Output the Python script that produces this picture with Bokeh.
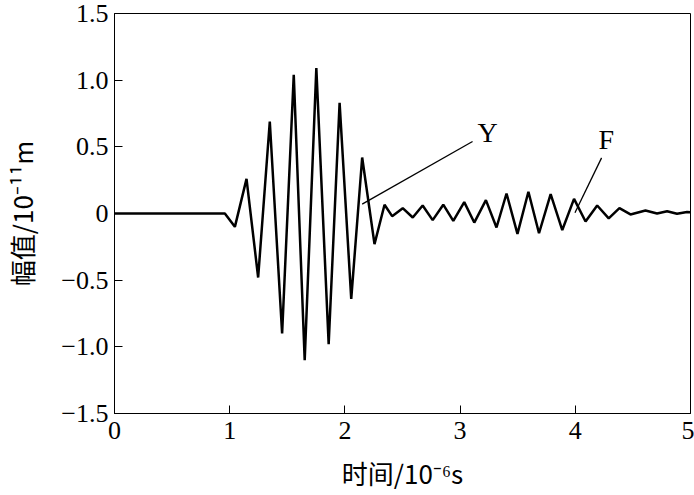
from bokeh.plotting import figure
from bokeh.models import Range1d, FixedTicker
from bokeh.core.properties import value
from bokeh.embed import file_html
from bokeh.resources import INLINE

# waveform (time in 1e-6 s, amplitude in 1e-11 m), peaks/troughs
t = [0, 0.958, 1.045, 1.146, 1.247, 1.348, 1.455, 1.556, 1.651, 1.752, 1.859,
     1.954, 2.055, 2.15, 2.257, 2.344, 2.41, 2.502, 2.589, 2.675, 2.762, 2.854,
     2.941, 3.036, 3.123, 3.224, 3.316, 3.403, 3.498, 3.593, 3.685, 3.786,
     3.887, 3.989, 4.089, 4.19, 4.29, 4.383, 4.479, 4.609, 4.71, 4.797, 4.883,
     4.97, 5.0]
amp = [0, 0, -0.10, 0.26, -0.48, 0.69, -0.90, 1.04, -1.10, 1.09, -0.98,
       0.83, -0.64, 0.42, -0.23, 0.066, -0.02, 0.04, -0.03, 0.06, -0.05, 0.066,
       -0.056, 0.085, -0.068, 0.10, -0.105, 0.15, -0.153, 0.163, -0.148, 0.146,
       -0.124, 0.11, -0.06, 0.06, -0.036, 0.04, -0.007, 0.022, 0.0, 0.017, -0.002,
       0.012, 0.01]

x_ticks = [0, 1, 2, 3, 4, 5]
x_tick_labels = ["0", "1", "2", "3", "4", "5"]
y_ticks = [-1.5, -1.0, -0.5, 0, 0.5, 1.0, 1.5]
y_tick_labels = ["\u22121.5", "\u22121.0", "\u22120.5", "0", "0.5", "1.0", "1.5"]

# annotation callouts
ann_labels = ["Y", "F"]
ann_x0 = [2.15, 3.997]
ann_y0 = [0.07, 0.005]
ann_x1 = [3.108, 4.228]
ann_y1 = [0.54, 0.417]
ann_tx = [3.238, 4.268]
ann_ty = [0.61, 0.555]

p = figure(width=694, height=495, output_backend="svg", toolbar_location=None,
           x_range=Range1d(0, 5), y_range=Range1d(-1.5, 1.5),
           min_border_left=111, min_border_right=4, min_border_top=13,
           min_border_bottom=82)
p.background_fill_color = "white"
p.border_fill_color = "white"
p.outline_line_color = "black"
p.outline_line_width = 1
p.xgrid.visible = False
p.ygrid.visible = False

p.line(t, amp, line_color="black", line_width=2.5)

p.segment(x0=ann_x0, y0=ann_y0, x1=ann_x1, y1=ann_y1, line_color="black", line_width=1.3)
p.text(x=ann_tx, y=ann_ty, text=ann_labels, text_font=value("Liberation Serif"),
       text_font_size="28px", text_align="center", text_baseline="middle",
       text_color="black")

for ax, ticks, labels in ((p.xaxis[0], x_ticks, x_tick_labels), (p.yaxis[0], y_ticks, y_tick_labels)):
    ax.ticker = FixedTicker(ticks=ticks)
    ax.major_label_overrides = {tk: lb for tk, lb in zip(ticks, labels)}
    ax.major_tick_in = 8
    ax.major_tick_out = 0
    ax.minor_tick_line_color = None
    ax.axis_line_color = "black"
    ax.major_tick_line_color = "black"
    ax.major_label_text_font = "Liberation Serif"
    ax.major_label_text_font_size = "26px"
    ax.major_label_text_color = "black"
    ax.axis_label_text_font = "Noto Sans CJK SC"
    ax.axis_label_text_font_size = "26px"
    ax.axis_label_text_font_style = "normal"
    ax.axis_label_text_color = "black"

p.xaxis[0].axis_label = "时间/10⁻⁶s"
p.yaxis[0].axis_label = "幅值/10⁻¹¹m"
p.xaxis[0].major_label_standoff = 8
p.yaxis[0].major_label_standoff = 6
p.xaxis[0].axis_label_standoff = 12
p.yaxis[0].axis_label_standoff = 18

open("out.html", "w").write(file_html(p, INLINE))
